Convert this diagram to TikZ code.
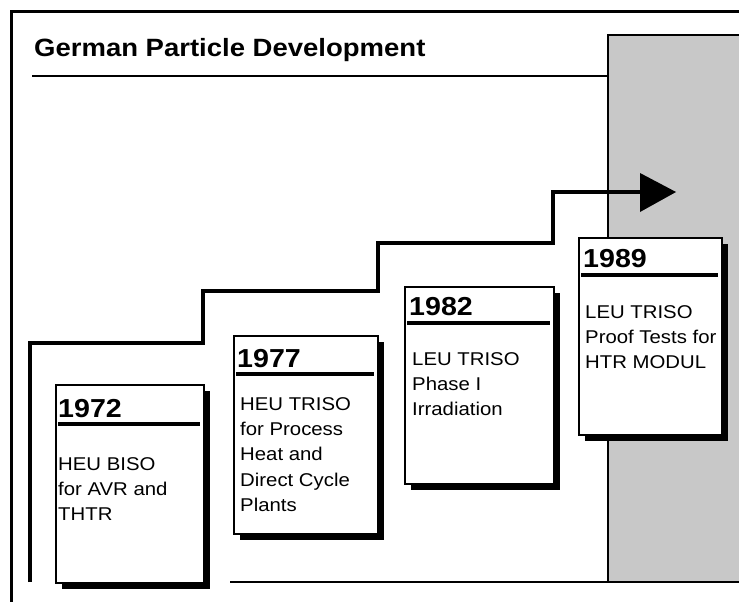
\documentclass[tikz,border=0pt]{standalone}
\usepackage{fontspec}
\newfontfamily\dsans{Liberation Sans}[FakeStretch=1.1]
\usetikzlibrary{shadows,calc}
\definecolor{panelgray}{HTML}{C8C8C8}
\begin{document}
\begin{tikzpicture}[x=1pt,y=-1pt,
  card/.style={draw=black, line width=2pt, fill=white, inner sep=0pt, anchor=north west,
    minimum height=197pt,
    drop shadow={shadow xshift=6pt, shadow yshift=-6pt, opacity=1, fill=black}},
  yeartext/.style={font=\dsans\bfseries\fontsize{26}{30}\selectfont, inner sep=0pt, anchor=base west},
  bodytext/.style={font=\dsans\fontsize{18.5}{25.3}\selectfont, inner sep=0pt, anchor=north west, align=left},
  yearrule/.style={line width=4pt},
  stair/.style={line width=4pt, line join=miter},
  thinrule/.style={line width=2.5pt},
  ]
\useasboundingbox (0,0) rectangle (739,602);
\fill[white] (0,0) rectangle (739,602);

% gray panel
\fill[panelgray] (608,35) rectangle (739,582);
\draw[thinrule] (608,582) -- (608,35) -- (739,35);

% frame
\draw[line width=3pt] (11.5,602) -- (11.5,12) -- (739,12);

% title
\node[font=\dsans\bfseries\fontsize{25}{30}\selectfont, inner sep=0pt, anchor=base west] (title) at (34,57) {German Particle Development};
\draw[thinrule] (32,76) -- (608,76);

% bottom rule
\draw[thinrule] (230,582) -- (739,582);

% staircase
\coordinate (s0) at (30,582);
\coordinate (s1) at (30,343);
\coordinate (s2) at (203,343);
\coordinate (s3) at (203,291);
\coordinate (s4) at (378,291);
\coordinate (s5) at (378,243);
\coordinate (s6) at (553,243);
\coordinate (s7) at (553,192);
\coordinate (s8) at (642,192);
\draw[stair] (s0) -- (s1) -- (s2) -- (s3) -- (s4) -- (s5) -- (s6) -- (s7) -- (s8);
\coordinate (t1) at (640,173);
\coordinate (t2) at (676,192);
\coordinate (t3) at (640,212);
\fill (t1) -- (t2) -- (t3) -- cycle;

% 1972
\node[card, minimum width=148pt, minimum height=198pt] (b72) at (55,384) {};
\node[yeartext] (y72) at ($(b72.north west)+(3,33)$) {1972};
\draw[yearrule] ($(b72.north west)+(3,40)$) -- ($(b72.north east)+(-5,40)$);
\node[bodytext] (t72) at ($(b72.north west)+(3,73)$) {HEU BISO\\for AVR and\\THTR};

% 1977
\node[card, minimum width=144pt, minimum height=198pt] (b77) at (233,335) {};
\node[yeartext] (y77) at ($(b77.north west)+(4,32)$) {1977};
\draw[yearrule] ($(b77.north west)+(3,39)$) -- ($(b77.north east)+(-5,39)$);
\node[bodytext] (t77) at ($(b77.north west)+(7,62)$) {HEU TRISO\\for Process\\Heat and\\Direct Cycle\\Plants};

% 1982
\node[card, minimum width=149pt] (b82) at (404,286) {};
\node[yeartext] (y82) at ($(b82.north west)+(5,29)$) {1982};
\draw[yearrule] ($(b82.north west)+(3,37)$) -- ($(b82.north east)+(-5,37)$);
\node[bodytext] (t82) at ($(b82.north west)+(8,66)$) {LEU TRISO\\Phase I\\Irradiation};

% 1989
\node[card, minimum width=143pt] (b89) at (578,237) {};
\node[yeartext] (y89) at ($(b89.north west)+(5,30)$) {1989};
\draw[yearrule] ($(b89.north west)+(3,38)$) -- ($(b89.north east)+(-5,38)$);
\node[bodytext] (t89) at ($(b89.north west)+(7,68)$) {LEU TRISO\\Proof Tests for\\HTR MODUL};
\end{tikzpicture}
\end{document}
